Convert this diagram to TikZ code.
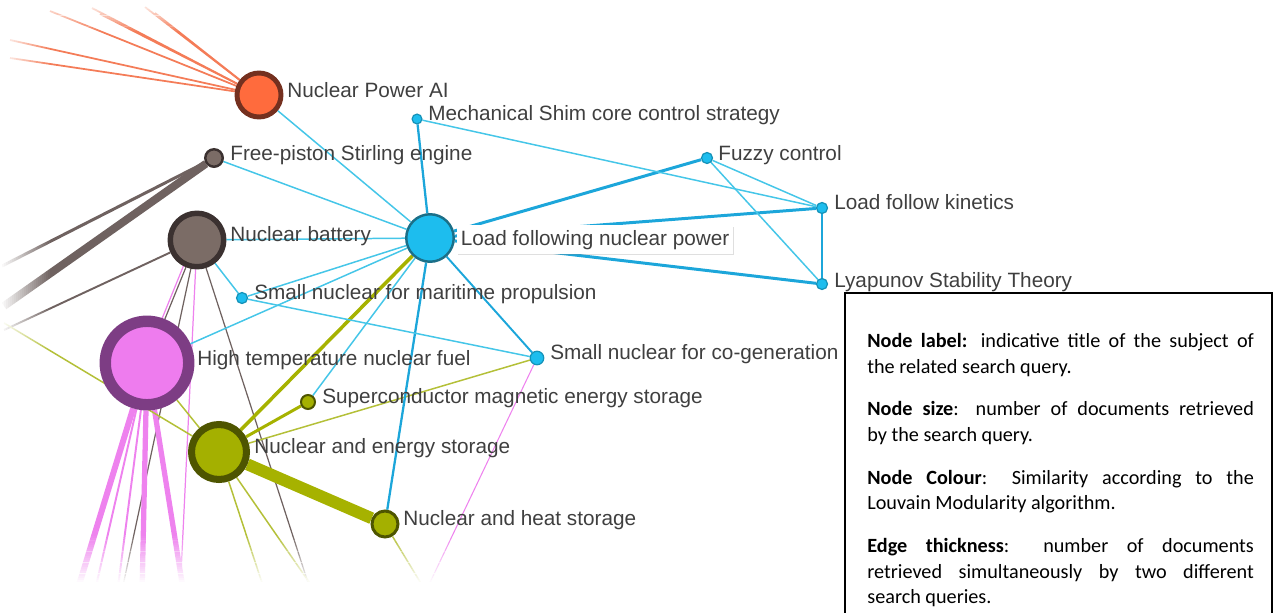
\documentclass[tikz,border=0pt]{standalone}
\usepackage{fontspec}
\setmainfont{Liberation Sans}
\newfontfamily\legendfont{Carlito}
\usetikzlibrary{shadows}
\pgfdeclarelayer{edges}
\pgfdeclarelayer{fade}
\pgfsetlayers{edges,fade,main}
\definecolor{cyanN}{HTML}{1DBDEE}
\definecolor{cyanB}{HTML}{1B6F88}
\definecolor{cyanD}{HTML}{1592B8}
\definecolor{cyanE}{HTML}{45C6E8}
\definecolor{cyanT}{HTML}{1CA6DA}
\definecolor{orangeN}{HTML}{FF6B3D}
\definecolor{orangeB}{HTML}{74301F}
\definecolor{orangeE}{HTML}{F47C58}
\definecolor{greyN}{HTML}{7B6C66}
\definecolor{greyB}{HTML}{3B3130}
\definecolor{greyE}{HTML}{6F6260}
\definecolor{pinkN}{HTML}{EE7CEE}
\definecolor{pinkB}{HTML}{7D3D84}
\definecolor{pinkE}{HTML}{EE82EE}
\definecolor{oliveN}{HTML}{A4B000}
\definecolor{oliveB}{HTML}{4E5500}
\definecolor{oliveE}{HTML}{B4C038}
\definecolor{oliveT}{HTML}{A6B200}
\definecolor{labelC}{HTML}{3F3F3F}
\begin{document}
\begin{tikzpicture}[x=0.02cm,y=-0.02cm,
  gnode/.style={circle,inner sep=0pt,draw},
  smallc/.style={gnode,fill=cyanN,draw=cyanD,line width=0.7pt,minimum size=0.22cm},
  lab/.style={anchor=base west,inner sep=0pt,text=labelC,font=\fontsize{11.8}{13}\selectfont},
  edgeCthin/.style={draw=cyanE,line width=0.85pt},
  edgeCmid/.style={draw=cyanT,line width=1.3pt},
  edgeCthick/.style={draw=cyanT,line width=1.7pt},
  edgeOl/.style={draw=oliveE,line width=0.85pt},
  edgeGr/.style={draw=greyE,line width=0.7pt},
  edgePk/.style={draw=pinkE,line width=0.7pt},
  edgeOr/.style={draw=orangeE,line width=1pt}]
\useasboundingbox (0,0) rectangle (1274,612);

% nodes
\node[gnode,fill=orangeN,draw=orangeB,line width=2.8pt,minimum size=0.88cm] (ai) at (259,95) {};
\node[smallc,minimum size=0.196cm] (shim) at (417,119) {};
\node[gnode,fill=greyN,draw=greyB,line width=1.4pt,minimum size=0.35cm] (free) at (214,158) {};
\node[smallc] (fuzzy) at (707,158) {};
\node[smallc] (lfk) at (822,208) {};
\node[gnode,fill=cyanN,draw=cyanB,line width=1.4pt,minimum size=0.95cm] (hub) at (430,238) {};
\node[gnode,fill=greyN,draw=greyB,line width=3.1pt,minimum size=1.07cm] (bat) at (197,240) {};
\node[smallc] (lyap) at (822,284) {};
\node[smallc] (mar) at (242,298) {};
\node[gnode,fill=pinkN,draw=pinkB,line width=6.5pt,minimum size=1.67cm] (htf) at (147,363) {};
\node[smallc,minimum size=0.27cm] (cog) at (537,358) {};
\node[gnode,fill=oliveN,draw=oliveB,line width=1.13pt,minimum size=0.28cm] (sup) at (308,402) {};
\node[gnode,fill=oliveN,draw=oliveB,line width=4pt,minimum size=1.1cm] (ens) at (219,452) {};
\node[gnode,fill=oliveN,draw=oliveB,line width=1.7pt,minimum size=0.52cm] (hs) at (385,524) {};

% free ends
\coordinate (o1) at (10,40);
\coordinate (o2) at (10,58);
\coordinate (o3) at (50,11);
\coordinate (o4) at (92,8);
\coordinate (o5) at (100,14);
\coordinate (o6) at (145,7);
\coordinate (o7) at (155,13);
\coordinate (g1) at (2,266);
\coordinate (g2) at (4,306);
\coordinate (g3) at (4,330);
\coordinate (y1) at (4,323);
\coordinate (gb1) at (312,595);
\coordinate (gb2) at (121,595);
\coordinate (pb1) at (180,595);
\coordinate (p1) at (76,595);
\coordinate (p2) at (94,595);
\coordinate (p3) at (117,595);
\coordinate (p4) at (142,595);
\coordinate (p5) at (184,595);
\coordinate (pc) at (424,595);
\coordinate (yb1) at (266,595);
\coordinate (yb2) at (318,595);
\coordinate (yb3) at (428,595);

\begin{pgfonlayer}{edges}
% orange
\foreach \t in {o1,o2,o3,o4,o5,o6,o7} \draw[edgeOr] (ai) -- (\t);
% grey
\draw[draw=greyE,line width=1.7pt] (free) -- (g1);
\draw[draw=greyE,line width=4.5pt] (free) -- (g2);
\draw[draw=greyE,line width=1.1pt] (bat) -- (g3);
\draw[edgeGr] (bat) -- (htf);
\draw[edgeGr] (bat) -- (gb1);
\draw[edgeGr] (bat) -- (gb2);
% pink
\draw[edgePk] ([xshift=-0.06cm]bat.center) -- ([xshift=-0.06cm]htf.center);
\draw[edgePk] (bat) -- (pb1);
\draw[draw=pinkE,line width=3.4pt] (htf) -- (p1);
\draw[draw=pinkE,line width=1.1pt] (htf) -- (p2);
\draw[draw=pinkE,line width=1.1pt] (htf) -- (p3);
\draw[draw=pinkE,line width=3pt] (htf) -- (p4);
\draw[draw=pinkE,line width=3pt] (htf) -- (p5);
\draw[edgePk,line width=0.6pt] (cog) -- (pc);
% olive
\draw[draw=oliveT,line width=6.8pt] (ens) -- (hs);
\draw[draw=oliveT,line width=1.7pt] (ens) -- (sup);
\draw[draw=oliveT,line width=2pt] (ens) -- (hub);
\draw[edgeOl] (ens) -- (cog);
\draw[edgeOl] (ens) -- (htf);
\draw[edgeOl] (ens) -- (y1);
\draw[edgeOl] (ens) -- (yb1);
\draw[edgeOl] (ens) -- (yb2);
\draw[edgeOl] (hs) -- (yb3);
% cyan
\draw[edgeCthin] (hub) -- (ai);
\draw[edgeCmid] (hub) -- (shim);
\draw[edgeCthin] (hub) -- (free);
\draw[edgeCthin] (hub) -- (bat);
\draw[edgeCthin] (hub) -- (mar);
\draw[edgeCthin] (hub) -- (htf);
\draw[edgeCthin] (hub) -- (sup);
\draw[edgeCmid] (hub) -- (hs);
\draw[edgeCmid,line width=1.1pt] (hub) -- (cog);
\draw[edgeCthick] (hub) -- (fuzzy);
\draw[edgeCthick] (hub) -- (lfk);
\draw[edgeCthick] (hub) -- (lyap);
\draw[edgeCthin] (shim) -- (lfk);
\draw[edgeCthin] (fuzzy) -- (lfk);
\draw[edgeCthin] (fuzzy) -- (lyap);
\draw[edgeCmid,line width=1.1pt] (lfk) -- (lyap);
\draw[edgeCthin] (bat) -- (mar);
\draw[edgeCthin] (mar) -- (cog);
\end{pgfonlayer}

% soft white vignette at the left, top and bottom edges
\begin{pgfonlayer}{fade}
\foreach \i in {0,...,24}{
  \pgfmathsetmacro\op{1-\i/25}
  \fill[white,opacity=\op] ({\i*2},0) rectangle ({\i*2+2.1},612);
}
\foreach \i in {0,...,13}{
  \pgfmathsetmacro\op{1-\i/14}
  \fill[white,opacity=\op] (0,{\i*2.2}) rectangle (420,{\i*2.2+2.3});
}
\foreach \i in {0,...,21}{
  \pgfmathsetmacro\op{(\i+1)/22}
  \fill[white,opacity=\op] (0,{536+\i*2.2}) rectangle (845,{536+\i*2.2+2.3});
}
\fill[white] (0,584) rectangle (845,612);
\end{pgfonlayer}

% labels
\node[lab] (lai) at (287,97) {Nuclear Power AI};
\node[lab] (lshim) at (428,120) {Mechanical Shim core control strategy};
\node[lab] (lfree) at (230,160) {Free-piston Stirling engine};
\node[lab] (lfuzzy) at (718,160) {Fuzzy control};
\node[lab] (llfk) at (834,209) {Load follow kinetics};
\node[lab] (lbat) at (230,241) {Nuclear battery};
\node[anchor=base west,inner xsep=2pt,inner ysep=2.6pt,fill=white,text=labelC,
      font=\fontsize{11.8}{13}\selectfont,
      drop shadow={shadow xshift=0.6pt,shadow yshift=-0.9pt,opacity=0.25}] (lhub) at (457,245) {Load following nuclear power};
\node[lab] (llyap) at (834,287) {Lyapunov Stability Theory};
\node[lab] (lmar) at (254,299) {Small nuclear for maritime propulsion};
\node[lab] (lhtf) at (197,365) {High temperature nuclear fuel};
\node[lab] (lcog) at (550,359) {Small nuclear for co-generation};
\node[lab] (lsup) at (322,403) {Superconductor magnetic energy storage};
\node[lab] (lens) at (254,453) {Nuclear and energy storage};
\node[lab] (lhs) at (403,525) {Nuclear and heat storage};

% legend
\draw[black,line width=1.1pt,fill=white] (845,293) rectangle (1272,640);
\node[anchor=north west,text width=220pt,align=justify,inner sep=0pt,
      font=\legendfont\fontsize{11.5}{14.5}\selectfont] (legend) at (867,333)
{\textbf{Node label:} indicative title of the subject of\linebreak the related search query.\par\vspace{9.9pt}
\textbf{Node size}: number of documents retrieved\linebreak by the search query.\par\vspace{9.9pt}
\textbf{Node Colour}: Similarity according to the\linebreak Louvain Modularity algorithm.\par\vspace{9.9pt}
\textbf{Edge thickness}: number of documents\linebreak retrieved simultaneously by two different\linebreak search queries.};
\end{tikzpicture}
\end{document}
